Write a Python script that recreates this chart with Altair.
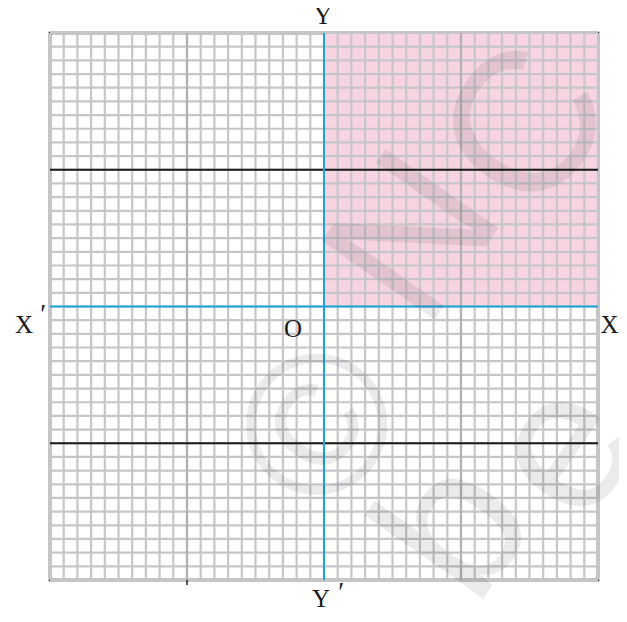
import altair as alt
import pandas as pd

grid_vals = list(range(-20, 21))
dark_h = [-10, 10]
dark_v = [-10, 10]
axis_vals = [0]
shade_x = [0, 20]
shade_y = [0, 20]
label_text = ["X", "X", "Y", "Y", "O"]
label_x = [-21.9, 20.85, -0.07, -0.22, -2.26]
label_y = [-1.94, -1.94, 20.65, -21.95, -2.2]
prime_text = ["\u2032", "\u2032"]
prime_x = [-20.5, 1.25]
prime_y = [-1.2, -21.55]
wm_text = ["\u00a9", "N", "C", "b", "e"]
wm_x = [0.0, 6.8, 15.0, 9.8, 17.6]
wm_y = [-9.0, 4.9, 12.9, -16.3, -10.5]

xs = alt.Scale(domain=[-20, 20], nice=False, zero=False)
ys = alt.Scale(domain=[-20, 20], nice=False, zero=False)

grid_df = pd.DataFrame({"v": grid_vals})
shade_df = pd.DataFrame({"x": [shade_x[0]], "x2": [shade_x[1]], "y": [shade_y[0]], "y2": [shade_y[1]]})

shade = alt.Chart(shade_df).mark_rect(color="#f8d4e3").encode(
    x=alt.X("x:Q", scale=xs, axis=None), x2="x2:Q",
    y=alt.Y("y:Q", scale=ys, axis=None), y2="y2:Q")

vgrid = alt.Chart(grid_df).mark_rule(color="#c6c6ca", strokeWidth=2.2).encode(
    x=alt.X("v:Q", scale=xs, axis=None))
hgrid = alt.Chart(grid_df).mark_rule(color="#c6c6ca", strokeWidth=2.2).encode(
    y=alt.Y("v:Q", scale=ys, axis=None))

vdark = alt.Chart(pd.DataFrame({"v": dark_v})).mark_rule(color="#b2b2b6", strokeWidth=2.2).encode(
    x=alt.X("v:Q", scale=xs, axis=None))
hblack = alt.Chart(pd.DataFrame({"v": dark_h})).mark_rule(color="#1a1a1a", strokeWidth=2).encode(
    y=alt.Y("v:Q", scale=ys, axis=None))

axis_df = pd.DataFrame({"v": axis_vals})
vblue = alt.Chart(axis_df).mark_rule(color="#1ba3dc", strokeWidth=2).encode(
    x=alt.X("v:Q", scale=xs, axis=None))
hblue = alt.Chart(axis_df).mark_rule(color="#1ba3dc", strokeWidth=2).encode(
    y=alt.Y("v:Q", scale=ys, axis=None))

tick = alt.Chart(pd.DataFrame({"v": [-10]})).mark_rule(color="#1a1a1a", strokeWidth=1.5).encode(
    x=alt.X("v:Q", scale=xs, axis=None), y=alt.value(547), y2=alt.value(552))

wm_df = pd.DataFrame({"t": wm_text, "x": wm_x, "y": wm_y})
watermark = alt.Chart(wm_df).mark_text(font="Liberation Sans", fontSize=200, color="#000000",
                                       opacity=0.075, angle=305, align="center",
                                       baseline="middle").encode(
    x=alt.X("x:Q", scale=xs, axis=None), y=alt.Y("y:Q", scale=ys, axis=None), text="t:N")

lab_df = pd.DataFrame({"t": label_text, "x": label_x, "y": label_y})
labels = alt.Chart(lab_df).mark_text(font="Liberation Serif", fontSize=25, color="#1a1a1a",
                                     baseline="alphabetic").encode(
    x=alt.X("x:Q", scale=xs, axis=None), y=alt.Y("y:Q", scale=ys, axis=None), text="t:N")

prime_df = pd.DataFrame({"t": prime_text, "x": prime_x, "y": prime_y})
primes = alt.Chart(prime_df).mark_text(font="Liberation Serif", fontSize=27, color="#1a1a1a",
                                       baseline="alphabetic").encode(
    x=alt.X("x:Q", scale=xs, axis=None), y=alt.Y("y:Q", scale=ys, axis=None), text="t:N")

chart = alt.layer(shade, vgrid, hgrid, vdark, hblack, vblue, hblue, tick, watermark, labels, primes).properties(
    width=548, height=547,
    padding={"left": 42, "top": 25, "right": 21, "bottom": 28},
    autosize=alt.AutoSizeParams(type="none"),
).configure_view(stroke="#1a1a1a", strokeWidth=2.5)

chart.save("out.html", embed_options={"renderer": "svg", "actions": False})
